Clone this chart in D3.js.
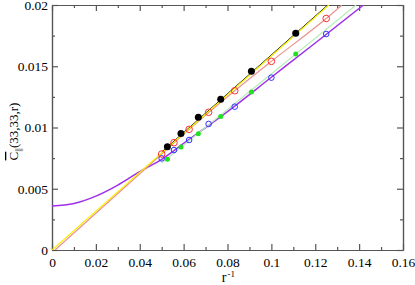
<!DOCTYPE html>
<html>
<head>
<meta charset="utf-8">
<script src="https://cdn.jsdelivr.net/npm/d3@7"></script>
<style>
    body { margin: 0; background: #fff; }
    svg { display: block; }
</style>
</head>
<body>
<div class="chart-container"></div>
<script>
// Data (x = 1/r).
const blackX = [0.1111, 0.0909, 0.0769, 0.0667, 0.0588, 0.0526];
const blackY = [0.01769, 0.01459, 0.0123, 0.01083, 0.00952, 0.00843];

const redX = [0.125, 0.1, 0.0833, 0.0714, 0.0625, 0.0556, 0.05];
const redY = [0.0189, 0.0154, 0.0130, 0.01124, 0.00985, 0.00876, 0.00784];

const greenX = [0.1111, 0.0909, 0.0769, 0.0667, 0.0588, 0.0526];
const greenY = [0.0160, 0.0129, 0.0109, 0.0095, 0.0084, 0.0074];

const blueX = [0.125, 0.1, 0.0833, 0.0714, 0.0625, 0.0556, 0.05];
const blueY = [0.01763, 0.01407, 0.0117, 0.01029, 0.00898, 0.00816, 0.00748];

// Fit curves, as seen in the picture.
const yellowFit = [[0, 0], [0.1262, 0.02]];
const blackFit = [[0.05, 0.0080], [0.1257, 0.02]];
const redFit = [[0.0014, 0], [0.05, 0.00784], [0.0625, 0.00985], [0.0833, 0.0130],
    [0.1, 0.0154], [0.125, 0.0189], [0.1322, 0.02]];
const greenFit = [[0.05, 0.0071], [0.1386, 0.02]];
const purpleFit = [[0, 0.0036], [0.01, 0.0038], [0.02, 0.0044], [0.03, 0.0053],
    [0.04, 0.0064], [0.05, 0.0074], [0.06, 0.0087], [0.08, 0.0113],
    [0.1, 0.0141], [0.12, 0.0169], [0.142, 0.0200]];

const xTicks = [0, 0.02, 0.04, 0.06, 0.08, 0.1, 0.12, 0.14, 0.16];
const xTickLabels = ['0', '0.02', '0.04', '0.06', '0.08', '0.1', '0.12', '0.14', '0.16'];
const yTicks = [0, 0.005, 0.01, 0.015, 0.02];
const yTickLabels = ['0', '0.005', '0.01', '0.015', '0.02'];

const serif = '"Liberation Serif", "Times New Roman", "DejaVu Serif"';

function buildChart() {
    const width = 415;
    const height = 285;
    const margin = {top: 5, right: 12, bottom: 35, left: 52};
    const axisColor = '#555';

    const svg = d3.select('.chart-container')
        .append('svg')
        .attr('width', width)
        .attr('height', height);

    // Build scales.
    const x = d3.scaleLinear()
        .domain([0, 0.16])
        .range([margin.left, width - margin.right]);

    const y = d3.scaleLinear()
        .domain([0, 0.02])
        .range([height - margin.bottom, margin.top]);

    svg.append('clipPath')
        .attr('id', 'plot-clip')
        .append('rect')
        .attr('x', x(0))
        .attr('y', y(0.02))
        .attr('width', x(0.16) - x(0))
        .attr('height', y(0) - y(0.02));

    // Axes: ticks point inward on all four sides.
    const xMinor = d3.range(0.01, 0.16, 0.02);
    const yMinor = d3.range(0.0025, 0.02, 0.005);

    svg.append('g')
        .attr('transform', `translate(0,${y(0)})`)
        .call(d3.axisBottom(x).tickValues(xTicks).tickSizeInner(-6).tickSizeOuter(0)
            .tickPadding(7).tickFormat((d, i) => xTickLabels[i]));
    svg.append('g')
        .attr('transform', `translate(0,${y(0)})`)
        .call(d3.axisBottom(x).tickValues(xMinor).tickSizeInner(-3).tickSizeOuter(0).tickFormat(''));
    svg.append('g')
        .attr('transform', `translate(0,${y(0.02)})`)
        .call(d3.axisTop(x).tickValues(xTicks).tickSizeInner(-6).tickSizeOuter(0).tickFormat(''));
    svg.append('g')
        .attr('transform', `translate(0,${y(0.02)})`)
        .call(d3.axisTop(x).tickValues(xMinor).tickSizeInner(-3).tickSizeOuter(0).tickFormat(''));

    svg.append('g')
        .attr('transform', `translate(${x(0)},0)`)
        .call(d3.axisLeft(y).tickValues(yTicks).tickSizeInner(-6).tickSizeOuter(0)
            .tickPadding(4).tickFormat((d, i) => yTickLabels[i]));
    svg.append('g')
        .attr('transform', `translate(${x(0)},0)`)
        .call(d3.axisLeft(y).tickValues(yMinor).tickSizeInner(-3).tickSizeOuter(0).tickFormat(''));
    svg.append('g')
        .attr('transform', `translate(${x(0.16)},0)`)
        .call(d3.axisRight(y).tickValues(yTicks).tickSizeInner(-6).tickSizeOuter(0).tickFormat(''));
    svg.append('g')
        .attr('transform', `translate(${x(0.16)},0)`)
        .call(d3.axisRight(y).tickValues(yMinor).tickSizeInner(-3).tickSizeOuter(0).tickFormat(''));

    svg.selectAll('.domain, .tick line')
        .attr('stroke', axisColor)
        .attr('stroke-width', 1.2);
    svg.selectAll('.tick text')
        .style('font-family', serif)
        .style('font-size', '13.5px')
        .attr('fill', '#000');

    // Axis titles.
    svg.append('text')
        .attr('x', x(0.08) - 1)
        .attr('y', 282)
        .attr('text-anchor', 'end')
        .style('font-family', serif)
        .style('font-size', '14px')
        .text('r');
    svg.append('text')
        .attr('x', x(0.08))
        .attr('y', 277)
        .attr('text-anchor', 'start')
        .style('font-family', serif)
        .style('font-size', '9px')
        .text('-1');

    const yTitle = svg.append('text')
        .attr('transform', `translate(18,${y(0.01) + 4}) rotate(-90)`)
        .attr('text-anchor', 'middle')
        .style('font-family', serif)
        .style('font-size', '13px');
    yTitle.append('tspan').attr('text-decoration', 'overline').text('C');
    yTitle.append('tspan').attr('dy', 3).style('font-size', '9px').text('||');
    yTitle.append('tspan').attr('dy', -3).text('(33,33,r)');

    // Build fit lines.
    const line = d3.line()
        .x(d => x(d[0]))
        .y(d => y(d[1]))
        .curve(d3.curveMonotoneX);

    const plot = svg.append('g').attr('clip-path', 'url(#plot-clip)');

    const fits = [
        {pts: purpleFit, color: '#a030e8', w: 1.5},
        {pts: greenFit, color: '#b8ecb8', w: 1.2},
        {pts: redFit, color: '#ec9090', w: 1.2},
        {pts: blackFit, color: '#000', w: 1},
        {pts: yellowFit, color: '#f5f000', w: 1.2}
    ];

    plot.selectAll('path.fit')
        .data(fits)
        .join('path')
        .attr('class', 'fit')
        .attr('d', d => line(d.pts))
        .attr('fill', 'none')
        .attr('stroke', d => d.color)
        .attr('stroke-width', d => d.w);

    // Build markers.
    const zip = (xs, ys) => xs.map((v, i) => [v, ys[i]]);

    plot.selectAll('circle.blue')
        .data(zip(blueX, blueY))
        .join('circle')
        .attr('class', 'blue')
        .attr('cx', d => x(d[0]))
        .attr('cy', d => y(d[1]))
        .attr('r', 2.8)
        .attr('fill', 'none')
        .attr('stroke', '#3030ff')
        .attr('stroke-width', 1);

    plot.selectAll('circle.green')
        .data(zip(greenX, greenY))
        .join('circle')
        .attr('class', 'green')
        .attr('cx', d => x(d[0]))
        .attr('cy', d => y(d[1]))
        .attr('r', 2.5)
        .attr('fill', '#20e020');

    plot.selectAll('circle.red')
        .data(zip(redX, redY))
        .join('circle')
        .attr('class', 'red')
        .attr('cx', d => x(d[0]))
        .attr('cy', d => y(d[1]))
        .attr('r', 3.3)
        .attr('fill', 'none')
        .attr('stroke', '#ff3030')
        .attr('stroke-width', 1);

    plot.selectAll('circle.black')
        .data(zip(blackX, blackY))
        .join('circle')
        .attr('class', 'black')
        .attr('cx', d => x(d[0]))
        .attr('cy', d => y(d[1]))
        .attr('r', 3.5)
        .attr('fill', '#000');
}

buildChart();
</script>
</body>
</html>
